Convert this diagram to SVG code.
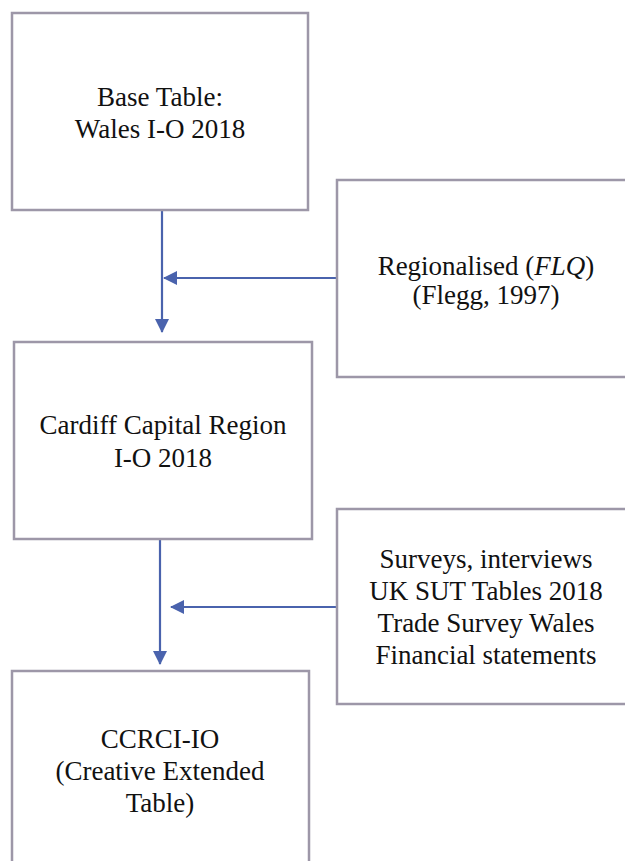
<svg xmlns="http://www.w3.org/2000/svg" width="625" height="861" viewBox="0 0 625 861">
  <style>
    .box { fill: #ffffff; stroke: #9d97a8; stroke-width: 2.5; }
    .lbl { font-size: 27px; fill: #111111; text-anchor: middle; }
    .math { font-style: italic; }
    .flow { stroke: #4a63ad; stroke-width: 2.2; fill: none; marker-end: url(#head); }
  </style>
  <defs>
    <marker id="head" viewBox="0 0 14 14" refX="13" refY="7" markerWidth="14" markerHeight="14" markerUnits="userSpaceOnUse" orient="auto">
      <path d="M0,0 L14,7 L0,14 Z" fill="#4a63ad"/>
    </marker>
  </defs>
  <rect width="625" height="861" fill="#ffffff"/>

  <g id="connectors">
    <line class="flow" x1="162" y1="210" x2="162" y2="332"/>
    <line class="flow" x1="337" y1="278" x2="164" y2="278"/>
    <line class="flow" x1="160" y1="540" x2="160" y2="664"/>
    <line class="flow" x1="337" y1="607" x2="171" y2="607"/>
  </g>

  <g font-family="'Liberation Serif', 'DejaVu Serif', serif">
    <g id="base-table">
      <rect class="box" x="12" y="13" width="296" height="197"/>
      <text class="lbl" x="160" y="106">Base Table:</text>
      <text class="lbl" x="160" y="138">Wales I-O 2018</text>
    </g>

    <g id="regionalised">
      <rect class="box" x="337" y="180" width="300" height="197"/>
      <text class="lbl" x="486" y="275">Regionalised (<tspan class="math">FLQ</tspan>)</text>
      <text class="lbl" x="486" y="304">(Flegg, 1997)</text>
    </g>

    <g id="cardiff-region">
      <rect class="box" x="14" y="342" width="298" height="197"/>
      <text class="lbl" x="163" y="434">Cardiff Capital Region</text>
      <text class="lbl" x="163" y="467">I-O 2018</text>
    </g>

    <g id="sources">
      <rect class="box" x="337" y="509" width="300" height="195"/>
      <text class="lbl" x="486" y="568">Surveys, interviews</text>
      <text class="lbl" x="486" y="600">UK SUT Tables 2018</text>
      <text class="lbl" x="486" y="632">Trade Survey Wales</text>
      <text class="lbl" x="486" y="664">Financial statements</text>
    </g>

    <g id="ccrci-io">
      <rect class="box" x="12" y="671" width="297" height="200"/>
      <text class="lbl" x="160" y="748">CCRCI-IO</text>
      <text class="lbl" x="160" y="780">(Creative Extended</text>
      <text class="lbl" x="160" y="812">Table)</text>
    </g>
  </g>
</svg>
